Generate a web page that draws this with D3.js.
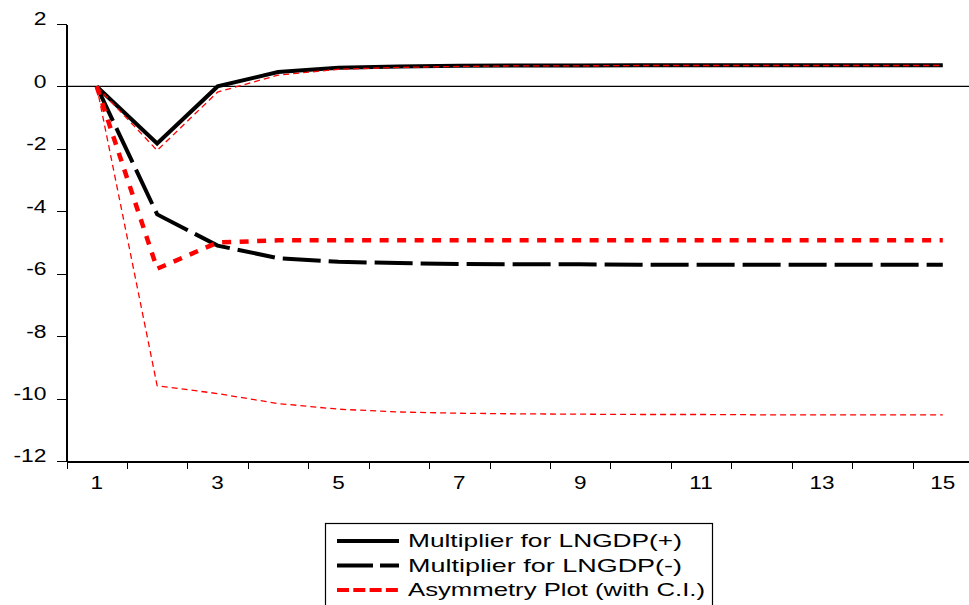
<!DOCTYPE html>
<meta charset="utf-8">
<style>
body { margin: 0; background: #fff; }
text { font-family: "Liberation Sans", Arial, sans-serif; fill: #000; }
.axis path, .axis line { stroke: #000; shape-rendering: crispEdges; }
</style>
<svg width="969" height="605"></svg>
<script src="https://cdn.jsdelivr.net/npm/d3@7"></script>
<script>

var periods = [1,2,3,4,5,6,7,8,9,10,11,12,13,14,15];
var xLabels = [1,3,5,7,9,11,13,15];
var yTicks = [2,0,-2,-4,-6,-8,-10,-12];

var multPos  = [0,-1.83,0.0,0.46,0.60,0.64,0.66,0.67,0.67,0.68,0.68,0.68,0.68,0.68,0.68];
var multNeg  = [0,-4.10,-5.10,-5.50,-5.62,-5.66,-5.69,-5.70,-5.70,-5.71,-5.71,-5.71,-5.71,-5.71,-5.71];
var asym     = [0,-5.84,-5.00,-4.93,-4.93,-4.93,-4.93,-4.93,-4.93,-4.93,-4.93,-4.93,-4.93,-4.93,-4.93];
var ciUpper  = [0,-2.05,-0.18,0.36,0.55,0.61,0.64,0.66,0.66,0.67,0.67,0.67,0.67,0.67,0.67];
var ciLower  = [0,-9.59,-9.84,-10.16,-10.34,-10.43,-10.47,-10.49,-10.50,-10.51,-10.51,-10.52,-10.52,-10.52,-10.52];

var legendNames = ["Multiplier for LNGDP(+)", "Multiplier for LNGDP(-)", "Asymmetry Plot (with C.I.)"];
var legendWidths = [274, 274, 297];

var svg = d3.select("svg");

var x = d3.scaleLinear().domain([0.5, 15.5]).range([66.5, 973]);
var y = d3.scaleLinear().domain([2, -12]).range([24, 461]);

// the original font is wider than Arial, stretch it a bit
function stretch(sel, k) {
  sel.each(function() {
    var w = this.getComputedTextLength();
    d3.select(this).attr("textLength", w * k).attr("lengthAdjust", "spacingAndGlyphs");
  });
}

// y axis
svg.append("g")
    .attr("class", "axis")
    .attr("transform", "translate(66.5,0)")
    .call(d3.axisLeft(y).tickValues(yTicks).tickSize(10).tickPadding(10).tickSizeOuter(0)
      .tickFormat(function(d) { return String(d); }))
    .call(function(g) {
      g.select(".domain").attr("stroke-width", 1.5);
      g.selectAll("text").style("font-size", "18px").attr("dy", "0.05em").call(stretch, 1.27);
    });

// x axis, ticks between categories
var xt = d3.range(0.5, 15.6, 1);
var xg = svg.append("g")
    .attr("class", "axis")
    .attr("transform", "translate(0,461.5)");
xg.call(d3.axisBottom(x).tickValues(xt).tickSize(7).tickFormat("").tickSizeOuter(0))
  .call(function(g) { g.select(".domain").attr("stroke-width", 1.5); });
xg.selectAll(".lbl")
  .data(xLabels)
  .enter().append("text")
    .attr("class", "lbl")
    .attr("x", function(d) { return x(d); })
    .attr("y", 27)
    .attr("text-anchor", "middle")
    .style("font-size", "18px")
    .text(function(d) { return d; })
    .call(stretch, 1.25);

// zero line
svg.append("line")
    .attr("x1", 66.5).attr("x2", 969)
    .attr("y1", y(0)).attr("y2", y(0))
    .attr("stroke", "#000").attr("stroke-width", 1.2);

var line = d3.line()
    .x(function(d, i) { return x(periods[i]); })
    .y(function(d) { return y(d); });

var series = [
  { data: multNeg, color: "#000", width: 4, dash: "38,8" },
  { data: multPos, color: "#000", width: 4, dash: null },
  { data: asym, color: "red", width: 4.5, dash: "9,8.5" },
  { data: ciLower, color: "red", width: 1.3, dash: "6,4" },
  { data: ciUpper, color: "red", width: 1.3, dash: "6,4" }
];

svg.selectAll(".series")
  .data(series)
  .enter().append("path")
    .attr("class", "series")
    .attr("d", function(d) { return line(d.data); })
    .attr("fill", "none")
    .attr("stroke", function(d) { return d.color; })
    .attr("stroke-width", function(d) { return d.width; })
    .attr("stroke-dasharray", function(d) { return d.dash; })
    .attr("stroke-linejoin", "miter");

// legend
var leg = svg.append("g").attr("transform", "translate(325,523)");
leg.append("rect")
    .attr("x", 0.5).attr("y", 0.5)
    .attr("width", 387).attr("height", 90)
    .attr("fill", "#fff").attr("stroke", "#000").attr("stroke-width", 1.2);

var legStyles = [
  { color: "#000", dash: null },
  { color: "#000", dash: "36,7" },
  { color: "red", dash: "12,4.3" }
];

legendNames.forEach(function(name, i) {
  var ly = 18 + i * 24.5;
  leg.append("line")
      .attr("x1", 12).attr("x2", 74)
      .attr("y1", ly).attr("y2", ly)
      .attr("stroke", legStyles[i].color)
      .attr("stroke-width", 4)
      .attr("stroke-dasharray", legStyles[i].dash);
  leg.append("text")
      .attr("x", 83).attr("y", ly + 6)
      .style("font-size", "19px")
      .attr("textLength", legendWidths[i])
      .attr("lengthAdjust", "spacingAndGlyphs")
      .text(name);
});

</script>
